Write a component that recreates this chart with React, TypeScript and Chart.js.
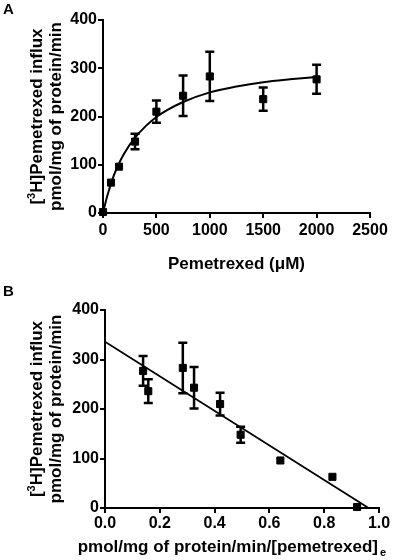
import React, { useEffect, useRef } from "react";
import { Chart, registerables } from "chart.js";

Chart.register(...registerables);

// ---------- Panel A data (Michaelis-Menten plot) ----------
const concA = [0, 75, 150, 300, 500, 750, 1000, 1500, 2000];
const influxA = [2, 63, 96, 148, 210, 243, 283, 236, 277];
const errA = [0, 0, 0, 16, 23, 42, 51, 24, 30];
// fitted curve, values
const curveX = [0, 25, 50, 100, 150, 200, 300, 400, 500, 600, 750, 1000, 1250, 1500, 1750, 2000];
const curveY = [0, 23, 43, 77, 103, 124, 156, 180, 199, 213, 230, 250, 262, 271, 277, 282];
const xTicksA = [0, 500, 1000, 1500, 2000, 2500];
const yTicks = [0, 100, 200, 300, 400];

// ---------- Panel B data (Eadie-Hofstee plot) ----------
const ratioB = [0.139, 0.158, 0.284, 0.325, 0.42, 0.495, 0.64, 0.83, 0.92];
const influxB = [277, 236, 283, 243, 210, 148, 96, 63, 2];
const errB = [30, 24, 51, 42, 23, 16, 0, 0, 0];
const fitLineX = [0, 0.962];
const fitLineY = [336, 0];
const xTicksB = [0, 0.2, 0.4, 0.6, 0.8, 1.0];

const FONT = "'Liberation Sans', Arial, sans-serif";

function errorBarPlugin(errs: number[]) {
  return {
    id: "errbars",
    afterDatasetsDraw(chart: any) {
      const ctx = chart.ctx;
      const meta = chart.getDatasetMeta(1);
      const ds = chart.data.datasets[1];
      const xs = chart.scales.x;
      const ys = chart.scales.y;
      ctx.save();
      ctx.strokeStyle = "#000";
      ctx.lineWidth = 2.5;
      ds.data.forEach((p: any, i: number) => {
        const e = errs[i];
        if (!e) return;
        const px = xs.getPixelForValue(p.x);
        const top = ys.getPixelForValue(p.y + e);
        const bot = ys.getPixelForValue(p.y - e);
        const hw = 4.5;
        ctx.beginPath();
        ctx.moveTo(px, top);
        ctx.lineTo(px, bot);
        ctx.moveTo(px - hw, top);
        ctx.lineTo(px + hw, top);
        ctx.moveTo(px - hw, bot);
        ctx.lineTo(px + hw, bot);
        ctx.stroke();
      });
      ctx.restore();
      void meta;
    },
  };
}

function drawYTitle(ctx: CanvasRenderingContext2D, cy: number) {
  ctx.save();
  ctx.fillStyle = "#000";
  ctx.textBaseline = "alphabetic";
  ctx.textAlign = "left";
  const big = `bold 17px ${FONT}`;
  const small = `bold 11px ${FONT}`;
  // line 1 with superscript 3
  ctx.translate(42, cy);
  ctx.rotate(-Math.PI / 2);
  ctx.font = big;
  const w1 = ctx.measureText("[").width;
  ctx.font = small;
  const w2 = ctx.measureText("3").width;
  ctx.font = big;
  const w3 = ctx.measureText("H]Pemetrexed influx").width;
  let x0 = -(w1 + w2 + w3) / 2;
  ctx.fillText("[", x0, 0);
  ctx.font = small;
  ctx.fillText("3", x0 + w1, -7);
  ctx.font = big;
  ctx.fillText("H]Pemetrexed influx", x0 + w1 + w2, 0);
  ctx.restore();
  ctx.save();
  ctx.fillStyle = "#000";
  ctx.translate(61, cy);
  ctx.rotate(-Math.PI / 2);
  ctx.font = big;
  ctx.textAlign = "center";
  ctx.fillText("pmol/mg of protein/min", 0, 0);
  ctx.restore();
}

function commonScales(xMin: number, xMax: number, xTickVals: number[], xPad: number, xH: number, yW: number, fmt?: (v: number) => string) {
  const tickFont = { family: FONT, size: 16, weight: "bold" as const };
  return {
    x: {
      type: "linear" as const,
      min: xMin,
      max: xMax,
      afterBuildTicks: (s: any) => {
        s.ticks = xTickVals.map((v) => ({ value: v }));
      },
      afterFit: (s: any) => {
        s.height = xH;
      },
      ticks: {
        color: "#000",
        font: tickFont,
        padding: xPad,
        maxRotation: 0,
        autoSkip: false,
        callback: (v: any) => (fmt ? fmt(Number(v)) : String(v)),
      },
      grid: { drawOnChartArea: false, drawTicks: true, tickLength: 5, color: "#000", lineWidth: 2 },
      border: { display: true, color: "#000", width: 2 },
    },
    y: {
      type: "linear" as const,
      min: 0,
      max: 400,
      afterBuildTicks: (s: any) => {
        s.ticks = yTicks.map((v) => ({ value: v }));
      },
      afterFit: (s: any) => {
        s.width = yW;
      },
      ticks: { color: "#000", font: tickFont, padding: 1, autoSkip: false },
      grid: { drawOnChartArea: false, drawTicks: true, tickLength: 5, color: "#000", lineWidth: 2 },
      border: { display: true, color: "#000", width: 2 },
    },
  };
}

function PanelA() {
  const ref = useRef<HTMLCanvasElement>(null);
  useEffect(() => {
    if (!ref.current) return;
    const labels = {
      id: "labelsA",
      afterDraw(chart: any) {
        const ctx = chart.ctx;
        const ca = chart.chartArea;
        ctx.save();
        ctx.fillStyle = "#000";
        ctx.font = `bold 15px ${FONT}`;
        ctx.textBaseline = "top";
        ctx.textAlign = "left";
        ctx.fillText("A", 3, 2);
        ctx.font = `bold 17px ${FONT}`;
        ctx.textBaseline = "alphabetic";
        ctx.textAlign = "center";
        ctx.fillText("Pemetrexed (\u03bcM)", (ca.left + ca.right) / 2, 269);
        ctx.restore();
        drawYTitle(ctx, (ca.top + ca.bottom) / 2);
      },
    };
    const chart = new Chart(ref.current, {
      type: "scatter",
      data: {
        datasets: [
          {
            type: "line",
            data: curveX.map((x, i) => ({ x, y: curveY[i] })),
            borderColor: "#000",
            borderWidth: 2,
            pointRadius: 0,
            fill: false,
            cubicInterpolationMode: "monotone",
          } as any,
          {
            data: concA.map((x, i) => ({ x, y: influxA[i] })),
            pointStyle: "rect",
            pointRadius: 5,
            backgroundColor: "#000",
            borderColor: "#000",
            borderWidth: 1,
            clip: false,
          } as any,
        ],
      },
      options: {
        animation: false,
        responsive: false,
        layout: { padding: { left: 0, right: 30, top: 20, bottom: 0 } },
        plugins: { legend: { display: false }, tooltip: { enabled: false } },
        scales: commonScales(0, 2500, xTicksA, 3, 67, 103) as any,
      },
      plugins: [errorBarPlugin(errA), labels],
    });
    return () => chart.destroy();
  }, []);
  return <canvas ref={ref} width={400} height={280} style={{ display: "block", width: 400, height: 280 }} />;
}

function PanelB() {
  const ref = useRef<HTMLCanvasElement>(null);
  useEffect(() => {
    if (!ref.current) return;
    const labels = {
      id: "labelsB",
      afterDraw(chart: any) {
        const ctx = chart.ctx;
        const ca = chart.chartArea;
        ctx.save();
        ctx.fillStyle = "#000";
        ctx.font = `bold 15px ${FONT}`;
        ctx.textBaseline = "top";
        ctx.textAlign = "left";
        ctx.fillText("B", 3, 4);
        ctx.font = `bold 17px ${FONT}`;
        ctx.textBaseline = "alphabetic";
        ctx.textAlign = "right";
        const endX = ca.right - 1;
        ctx.fillText("pmol/mg of protein/min/[pemetrexed]", endX, 272);
        ctx.font = `bold 11px ${FONT}`;
        ctx.textAlign = "left";
        ctx.fillText("e", endX + 2, 276);
        ctx.restore();
        drawYTitle(ctx, (ca.top + ca.bottom) / 2);
      },
    };
    const chart = new Chart(ref.current, {
      type: "scatter",
      data: {
        datasets: [
          {
            type: "line",
            data: fitLineX.map((x, i) => ({ x, y: fitLineY[i] })),
            borderColor: "#000",
            borderWidth: 1.8,
            pointRadius: 0,
            fill: false,
          } as any,
          {
            data: ratioB.map((x, i) => ({ x, y: influxB[i] })),
            pointStyle: "rect",
            pointRadius: 5,
            backgroundColor: "#000",
            borderColor: "#000",
            borderWidth: 1,
            clip: false,
          } as any,
        ],
      },
      options: {
        animation: false,
        responsive: false,
        layout: { padding: { left: 0, right: 21, top: 30, bottom: 0 } },
        plugins: { legend: { display: false }, tooltip: { enabled: false } },
        scales: commonScales(0, 1.0, xTicksB, 1, 52, 105, (v) => v.toFixed(1)) as any,
      },
      plugins: [errorBarPlugin(errB), labels],
    });
    return () => chart.destroy();
  }, []);
  return <canvas ref={ref} width={400} height={280} style={{ display: "block", width: 400, height: 280 }} />;
}

export default function App() {
  return (
    <div style={{ position: "absolute", left: 0, top: 0, width: 400, height: 560, background: "#fff" }}>
      <PanelA />
      <PanelB />
    </div>
  );
}
